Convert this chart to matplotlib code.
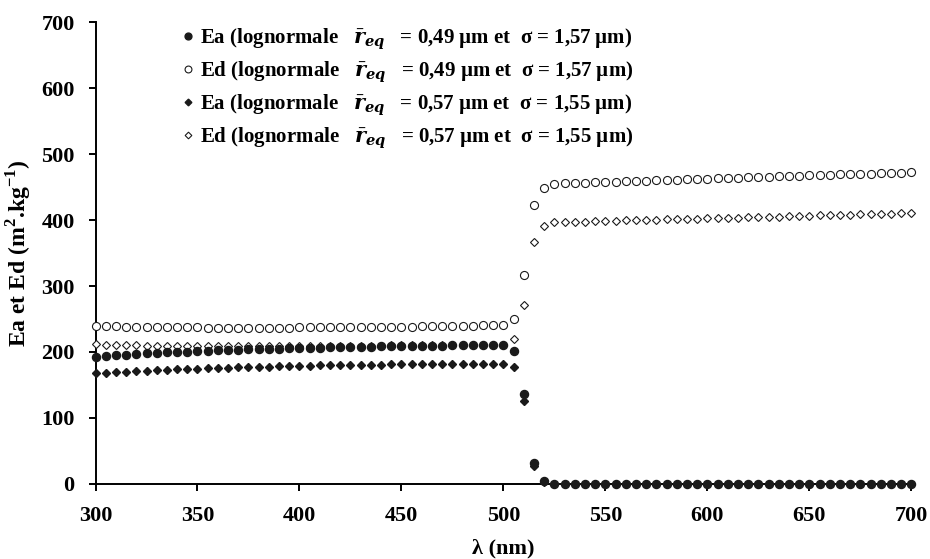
'''
Script used to plot Ea and Ed against wavelength for two lognormal distributions
'''
import numpy
import matplotlib
matplotlib.use('Agg')
import matplotlib.pyplot as plt

# ---------------------------------
wavelength = numpy.arange(300, 705, 5)

ea_049 = [
    193.0, 194.0, 195.0, 196.0, 197.0, 197.8, 198.6, 199.4, 200.0, 200.6,
    201.2, 201.8, 202.3, 202.8, 203.3, 203.8, 204.2, 204.6, 205.0, 205.4,
    205.8, 206.2, 206.6, 207.0, 207.3, 207.6, 207.9, 208.2, 208.5, 208.8,
    209.0, 209.2, 209.4, 209.6, 209.8, 210.0, 210.2, 210.4, 210.5, 210.6,
    210.7, 202.0, 137.0, 32.0, 5.0,
    0.3, 0.3, 0.3, 0.3, 0.3, 0.3, 0.3, 0.3, 0.3, 0.3, 0.3, 0.3,
    0.3, 0.3, 0.3, 0.3, 0.3, 0.3, 0.3, 0.3, 0.3, 0.3, 0.3, 0.3,
    0.3, 0.3, 0.3, 0.3, 0.3, 0.3, 0.3, 0.3, 0.3, 0.3, 0.3, 0.3]

ed_049 = [
    239.5, 239.2, 238.9, 238.6, 238.3, 238.0, 237.8, 237.6, 237.4, 237.3,
    237.2, 237.1, 237.0, 237.0, 237.0, 237.0, 237.0, 237.0, 237.0, 237.1,
    237.2, 237.3, 237.4, 237.5, 237.6, 237.7, 237.8, 237.9, 238.0, 238.1,
    238.3, 238.5, 238.7, 238.9, 239.1, 239.3, 239.6, 239.9, 240.2, 240.5,
    241.0, 250.0, 317.0, 422.0, 449.0,
    455.0, 455.5, 456.0, 456.5, 457.0, 457.5, 458.0, 458.5, 459.0, 459.5,
    460.0, 460.5, 461.0, 461.5, 462.0, 462.5, 463.0, 463.5, 464.0, 464.5,
    465.0, 465.5, 466.0, 466.5, 467.0, 467.5, 468.0, 468.5, 469.0, 469.5,
    470.0, 470.4, 470.8, 471.2, 471.6, 472.0]

ea_057 = [
    167.5, 168.5, 169.3, 170.1, 170.9, 171.6, 172.3, 173.0, 173.6, 174.2,
    174.8, 175.3, 175.8, 176.3, 176.8, 177.2, 177.6, 178.0, 178.4, 178.7,
    179.0, 179.3, 179.6, 179.9, 180.1, 180.3, 180.5, 180.7, 180.9, 181.1,
    181.2, 181.3, 181.4, 181.5, 181.6, 181.7, 181.8, 181.9, 182.0, 182.0,
    182.0, 177.0, 125.0, 27.0, 3.0,
    0.2, 0.2, 0.2, 0.2, 0.2, 0.2, 0.2, 0.2, 0.2, 0.2, 0.2, 0.2,
    0.2, 0.2, 0.2, 0.2, 0.2, 0.2, 0.2, 0.2, 0.2, 0.2, 0.2, 0.2,
    0.2, 0.2, 0.2, 0.2, 0.2, 0.2, 0.2, 0.2, 0.2, 0.2, 0.2, 0.2]

ed_057 = [
    211.5, 211.0, 210.6, 210.3, 210.0, 209.8, 209.6, 209.5, 209.4, 209.3,
    209.2, 209.2, 209.2, 209.2, 209.2, 209.2, 209.3, 209.3, 209.3, 209.4,
    209.4, 209.5, 209.5, 209.6, 209.6, 209.7, 209.7, 209.8, 209.8, 209.9,
    209.9, 210.0, 210.0, 210.1, 210.2, 210.3, 210.4, 210.5, 210.6, 210.8,
    211.0, 219.0, 271.0, 366.0, 391.0,
    396.5, 396.9, 397.3, 397.7, 398.1, 398.5, 398.9, 399.3, 399.7, 400.1,
    400.5, 400.9, 401.3, 401.7, 402.1, 402.5, 402.9, 403.3, 403.7, 404.1,
    404.5, 404.9, 405.3, 405.7, 406.1, 406.5, 406.9, 407.3, 407.7, 408.1,
    408.5, 408.9, 409.3, 409.7, 410.1, 410.5]

labels = [
    r'Ea (lognormale   $\bar{r}_{eq}$   = 0,49 µm et  σ = 1,57 µm)',
    r'Ed (lognormale   $\bar{r}_{eq}$   = 0,49 µm et  σ = 1,57 µm)',
    r'Ea (lognormale   $\bar{r}_{eq}$   = 0,57 µm et  σ = 1,55 µm)',
    r'Ed (lognormale   $\bar{r}_{eq}$   = 0,57 µm et  σ = 1,55 µm)']
# ---------------------------------
def _initialize() -> None:
    plt.rcParams['font.family']          = 'Liberation Serif'
    plt.rcParams['font.weight']          = 'bold'
    plt.rcParams['mathtext.fontset']     = 'custom'
    plt.rcParams['mathtext.rm']          = 'Liberation Serif:bold'
    plt.rcParams['mathtext.it']          = 'DejaVu Serif:bold:italic'
    plt.rcParams['mathtext.bf']          = 'Liberation Serif:bold'
    plt.rcParams['axes.linewidth']       = 1.4
# ---------------------------------
def _plot_series(ax) -> None:
    col = '#1a1a1a'
    ax.plot(wavelength, ea_049, ls='none', marker='o', ms=5.8, color=col,
            mec=col, label=labels[0], zorder=5, clip_on=False)
    ax.plot(wavelength, ed_049, ls='none', marker='o', ms=5.8, mfc='white',
            mec=col, mew=0.8, label=labels[1], zorder=3, clip_on=False)
    ax.plot(wavelength, ea_057, ls='none', marker='D', ms=4.0, color=col,
            mec=col, label=labels[2], zorder=4, clip_on=False)
    ax.plot(wavelength, ed_057, ls='none', marker='D', ms=4.0, mfc='white',
            mec=col, mew=0.8, label=labels[3], zorder=3, clip_on=False)
# ---------------------------------
def _format_axes(fig, ax) -> None:
    ax.set_xlim(300, 700)
    ax.set_ylim(0, 700)
    ax.set_xticks(range(300, 701, 50))
    ax.set_yticks(range(0, 701, 100))
    ax.spines['top'].set_visible(False)
    ax.spines['right'].set_visible(False)
    ax.tick_params(direction='out', length=5, width=1.4, labelsize=16, pad=11)
    ax.tick_params(axis='y', pad=10)

    ax.set_xlabel('λ (nm)', fontsize=16, fontweight='bold', labelpad=9)
    ax.set_ylabel('Ea et Ed (m$^2$.kg$^{-1}$)', fontsize=17, fontweight='bold', labelpad=6)

    ax.legend(loc='upper left', bbox_to_anchor=(0.198, 0.953),
              bbox_transform=fig.transFigure, frameon=False, fontsize=15,
              handlelength=0.4, handletextpad=0.35, labelspacing=0.36,
              borderaxespad=0, borderpad=0, numpoints=1, markerscale=0.85)
# ------------------------------------
def main():
    '''
    start here
    '''
    _initialize()

    fig = plt.figure(figsize=(9.3, 5.59), dpi=100)
    ax  = fig.add_axes([0.1027, 0.1342, 0.8773, 0.8264])

    _plot_series(ax)
    _format_axes(fig, ax)

    fig.savefig('out.png', dpi=100)
    plt.close(fig)
# ------------------------------------
if __name__ == "__main__":
    main()
